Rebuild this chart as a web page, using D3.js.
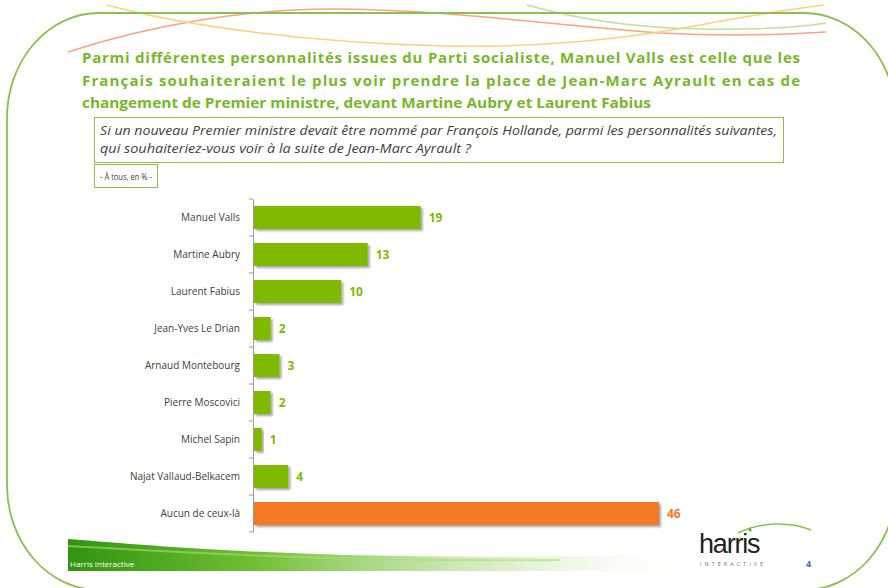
<!DOCTYPE html>
<html lang="fr">
  <head>
    <meta charset="UTF-8" />
    <title>Harris Interactive - Premier ministre</title>
    <script src="https://cdn.jsdelivr.net/npm/d3@7"></script>
    <style>
      body { margin:0; background:#fff; }
      svg { display:block; font-family:"Open Sans", "Liberation Sans", sans-serif; }
    </style>
  </head>
  <body>
    <svg width="888" height="588"></svg>
    <script>
      // data
      const names = ["Manuel Valls", "Martine Aubry", "Laurent Fabius", "Jean-Yves Le Drian",
        "Arnaud Montebourg", "Pierre Moscovici", "Michel Sapin", "Najat Vallaud-Belkacem", "Aucun de ceux-là"];
      const values = [19, 13, 10, 2, 3, 2, 1, 4, 46];
      const titleLines = [
        "Parmi différentes personnalités issues du Parti socialiste, Manuel Valls est celle que les",
        "Français souhaiteraient le plus voir prendre la place de Jean-Marc Ayrault en cas de",
        "changement de Premier ministre, devant Martine Aubry et Laurent Fabius"
      ];
      const questionLines = [
        "Si un nouveau Premier ministre devait être nommé par François Hollande, parmi les personnalités suivantes,",
        "qui souhaiteriez-vous  voir à la suite de Jean-Marc Ayrault ?"
      ];

      const green = "#7fba00", orange = "#f47920", titleGreen = "#76b82a";
      const svg = d3.select("svg");
      const defs = svg.append("defs");

      // shadow under bars
      const f = defs.append("filter").attr("id", "shadow").attr("x", "-10%").attr("y", "-20%")
        .attr("width", "130%").attr("height", "160%");
      f.append("feDropShadow").attr("dx", 2).attr("dy", 2).attr("stdDeviation", 1.2)
        .attr("flood-color", "#000").attr("flood-opacity", 0.35);

      // footer gradient band
      const g1 = defs.append("linearGradient").attr("id", "band");
      g1.append("stop").attr("offset", "0%").attr("stop-color", "#2f9410");
      g1.append("stop").attr("offset", "30%").attr("stop-color", "#72bf34");
      g1.append("stop").attr("offset", "75%").attr("stop-color", "#d8edc4").attr("stop-opacity", 0.6);
      g1.append("stop").attr("offset", "100%").attr("stop-color", "#ffffff").attr("stop-opacity", 0);

      // decorative swooshes at top
      const swoosh = svg.append("g").attr("fill", "none").attr("stroke-width", 1.5);
      swoosh.append("path").attr("d", "M68,52 C150,25 250,8 340,9 C450,10 550,25 660,33 C720,36 780,35 826,32")
        .attr("stroke", "#f6a57e");
      swoosh.append("path").attr("d", "M107,5 C180,25 300,42 444,46 C540,48 620,40 700,25 C760,14 800,8 824,5")
        .attr("stroke", "#fbd27a");
      swoosh.append("path").attr("d", "M527,5 C580,20 640,28 700,29 C760,30 800,27 826,23")
        .attr("stroke", "#c2df9e");

      // big rounded frame with elliptical corners
      const L = 7, R = 896, T = 13, B = 590, rx = 92, ry = 105;
      svg.append("path")
        .attr("d", `M${L + rx},${T} H${R - rx} A${rx},${ry} 0 0 1 ${R},${T + ry} V${B - ry}
          A${rx},${ry} 0 0 1 ${R - rx},${B} H${L + rx} A${rx},${ry} 0 0 1 ${L},${B - ry}
          V${T + ry} A${rx},${ry} 0 0 1 ${L + rx},${T} Z`)
        .attr("fill", "none").attr("stroke", "#8cbf4e").attr("stroke-width", 1.8);

      // title, justified
      svg.append("g").selectAll("text").data(titleLines).join("text")
        .attr("x", 82).attr("y", (d, i) => 63 + i * 22.5)
        .attr("textLength", (d, i) => i < 2 ? 718 : 569)
        .attr("lengthAdjust", (d, i) => i < 2 ? "spacing" : "spacingAndGlyphs")
        .attr("fill", titleGreen).attr("font-weight", "bold").attr("font-size", 15)
        .text(d => d);

      // question box
      svg.append("rect").attr("x", 94.5).attr("y", 117.5).attr("width", 689).attr("height", 45)
        .attr("fill", "#fff").attr("stroke", "#8cc04a");
      svg.append("g").selectAll("text").data(questionLines).join("text")
        .attr("x", 100).attr("y", (d, i) => 135 + i * 18)
        .attr("font-style", "italic").attr("font-size", 12.5).attr("fill", "#404040")
        .attr("textLength", (d, i) => i === 0 ? 677 : 371)
        .attr("lengthAdjust", "spacingAndGlyphs")
        .text(d => d);

      svg.append("rect").attr("x", 94.5).attr("y", 164.5).attr("width", 63).attr("height", 23)
        .attr("fill", "#fff").attr("stroke", "#8cc04a");
      svg.append("text").attr("x", 100).attr("y", 180)
        .attr("font-size", 9).attr("fill", "#404040")
        .attr("textLength", 52).attr("lengthAdjust", "spacingAndGlyphs")
        .text("- À tous, en % -");

      // chart
      const x = d3.scaleLinear().domain([0, 46]).range([253, 659]);
      const yOuter = d3.scaleBand().domain(names).range([199, 532]);
      const y = d3.scaleBand().domain(names).range([199, 532]).paddingInner(0.38).paddingOuter(0.19);

      const axis = svg.append("g").attr("transform", "translate(253,0)")
        .call(d3.axisLeft(yOuter).tickSize(0).tickFormat(""));
      axis.select(".domain").attr("stroke", "#999");
      // tick marks between categories
      svg.append("g").selectAll("line").data(names.concat([null])).join("line")
        .attr("x1", 249).attr("x2", 253)
        .attr("y1", (d, i) => d ? yOuter(d) : 532).attr("y2", (d, i) => d ? yOuter(d) : 532)
        .attr("stroke", "#999");

      svg.append("g").selectAll("rect").data(names).join("rect")
        .attr("x", 254).attr("y", d => y(d))
        .attr("width", (d, i) => x(values[i]) - 254)
        .attr("height", y.bandwidth())
        .attr("fill", (d, i) => i === names.length - 1 ? orange : green)
        .attr("filter", "url(#shadow)");

      svg.append("g").selectAll("text").data(names).join("text")
        .attr("x", 240).attr("y", d => y(d) + y.bandwidth() / 2 + 3.5)
        .attr("text-anchor", "end").attr("font-size", 10).attr("fill", "#404040")
        .text(d => d);

      svg.append("g").selectAll("text").data(values).join("text")
        .attr("x", d => x(d) + 8).attr("y", (d, i) => y(names[i]) + y.bandwidth() / 2 + 4.5)
        .attr("font-size", 12).attr("font-weight", "bold")
        .attr("fill", (d, i) => i === names.length - 1 ? orange : green)
        .text(d => d);

      // footer
      svg.append("path").attr("d", "M68,539 C180,548 320,560 600,556 C640,555 680,553 700,552 L700,571 L68,571 Z")
        .attr("fill", "url(#band)");
      svg.append("path").attr("d", "M68,546 C180,552 320,562 560,560")
        .attr("fill", "none").attr("stroke", "#a8dc78").attr("stroke-opacity", 0.6).attr("stroke-width", 2);
      svg.append("text").attr("x", 70).attr("y", 567).attr("font-size", 8).attr("fill", "#fff")
        .text("Harris Interactive");

      svg.append("path").attr("d", "M738,533 C760,522 790,521 811,530")
        .attr("fill", "none").attr("stroke", "#8cc04a").attr("stroke-width", 1.5);
      svg.append("circle").attr("cx", 750).attr("cy", 530).attr("r", 1.6).attr("fill", "#6aaa2a");
      svg.append("text").attr("x", 699).attr("y", 553).attr("font-size", 27)
        .attr("fill", "#222").style("letter-spacing", "-1.2px")
        .attr("font-family", "'Liberation Sans Narrow', 'Liberation Sans', sans-serif")
        .text("harris");
      svg.append("text").attr("x", 700).attr("y", 566).attr("font-size", 5.5)
        .attr("fill", "#777").attr("textLength", 63).text("INTERACTIVE");
      svg.append("text").attr("x", 806).attr("y", 567).attr("font-size", 9)
        .attr("fill", "#3a6ea5").attr("font-weight", "bold").text("4");
    </script>
  </body>
</html>
